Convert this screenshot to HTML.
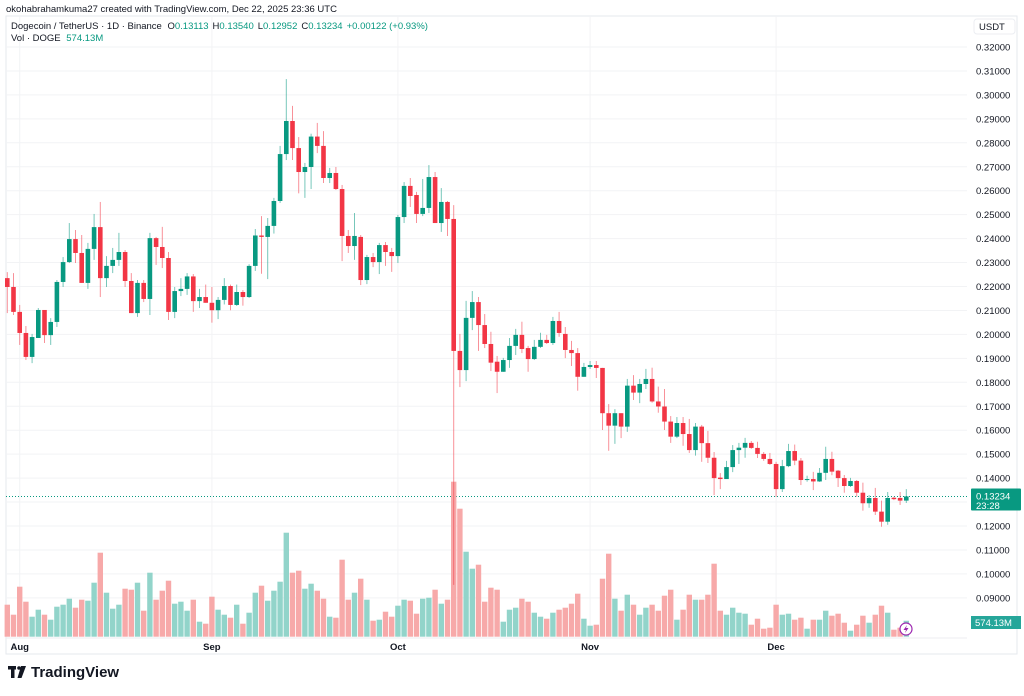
<!DOCTYPE html>
<html><head><meta charset="utf-8"><title>DOGEUSDT 1D</title>
<style>
html,body{margin:0;padding:0;background:#fff;}
body{width:1024px;height:691px;overflow:hidden;font-family:"Liberation Sans",sans-serif;}
svg text{font-family:"Liberation Sans",sans-serif;}
</style></head>
<body>
<svg id="chart" width="1024" height="691" viewBox="0 0 1024 691" xmlns="http://www.w3.org/2000/svg">
  <rect x="0" y="0" width="1024" height="691" fill="#ffffff"/>
  <text x="6" y="12" font-size="9.5" fill="#131722">okohabrahamkuma27 created with TradingView.com, Dec 22, 2025 23:36 UTC</text>
  <rect x="6" y="16" width="1011" height="638" fill="none" stroke="#e6e8ee" stroke-width="1"/>
  <g id="grid"></g>
  <g id="volumes"></g>
  <g id="candles"></g>
  <g id="yaxis"></g>
  <g id="xaxis"></g>
  <g>
    <text x="11" y="29" font-size="9.5" fill="#131722">Dogecoin / TetherUS · 1D · Binance <tspan dx="3">O</tspan><tspan fill="#089981">0.13113</tspan><tspan dx="4">H</tspan><tspan fill="#089981">0.13540</tspan><tspan dx="4">L</tspan><tspan fill="#089981">0.12952</tspan><tspan dx="4">C</tspan><tspan fill="#089981">0.13234</tspan><tspan dx="4" fill="#089981">+0.00122 (+0.93%)</tspan></text>
    <text x="11" y="41" font-size="9.5" fill="#131722">Vol · DOGE <tspan dx="3" fill="#089981">574.13M</tspan></text>
  </g>
  <g>
    <rect x="974" y="19" width="41" height="15" rx="3" fill="#fff" stroke="#eceef2"/>
    <text x="979" y="30" font-size="9.5" fill="#131722">USDT</text>
  </g>
  <g>
    <rect x="8" y="666" width="8" height="3.5" fill="#131722"/>
    <rect x="11" y="666" width="3.5" height="12" fill="#131722"/>
    <circle cx="19" cy="668" r="1.8" fill="#131722"/>
    <polygon points="21,666 26,666 21.5,678 17.5,678" fill="#131722"/>
    <text x="31" y="677" font-size="15" font-weight="bold" fill="#131722">TradingView</text>
  </g>
</svg>
<script>
const dates=['Aug','Sep','Oct','Nov','Dec'];
const dateIdx=[2,33,63,94,124];
const priceTicks=[0.32,0.31,0.30,0.29,0.28,0.27,0.26,0.25,0.24,0.23,0.22,0.21,0.20,0.19,0.18,0.17,0.16,0.15,0.14,0.13,0.12,0.11,0.10,0.09];
const opens=[.2235,.2198,.2094,.2006,.1906,.1985,.2102,.1997,.2052,.2219,.2302,.2398,.2340,.2215,.2357,.2448,.2235,.2286,.2311,.2344,.2223,.2089,.2215,.2148,.2402,.2365,.2319,.2094,.2181,.2190,.2242,.2139,.2156,.2132,.2101,.2144,.2202,.2123,.2177,.2156,.2286,.2413,.2407,.2453,.2557,.2753,.2891,.2778,.2678,.2699,.2826,.2787,.2653,.2674,.2607,.2411,.2369,.2407,.2227,.2323,.2302,.2373,.2344,.2327,.2490,.2620,.2582,.2503,.2528,.2657,.2465,.2553,.2482,.1931,.1851,.2069,.2135,.2039,.1960,.1886,.1844,.1893,.1952,.1998,.1943,.1897,.1948,.1977,.1964,.2056,.2002,.1935,.1922,.1823,.1864,.1872,.1860,.1671,.1619,.1671,.1615,.1786,.1757,.1793,.1814,.1720,.1699,.1636,.1573,.1630,.1584,.1517,.1615,.1546,.1485,.1402,.1396,.1446,.1517,.1527,.1547,.1526,.1501,.1480,.1459,.1354,.1450,.1513,.1473,.1392,.1396,.1386,.1422,.1480,.1431,.1400,.1367,.1388,.1339,.1295,.1317,.1260,.1218,.1318,.1317,.1306];
const highs=[.2260,.2256,.2123,.2035,.2002,.2110,.2102,.2068,.2227,.2323,.2465,.2436,.2415,.2382,.2503,.2553,.2327,.2361,.2424,.2352,.2256,.2227,.2227,.2424,.2407,.2449,.2344,.2198,.2235,.2256,.2252,.2190,.2208,.2198,.2156,.2235,.2208,.2208,.2185,.2293,.2440,.2494,.2486,.2570,.2787,.3066,.2954,.2824,.2716,.2838,.2883,.2849,.2695,.2699,.2624,.2436,.2507,.2415,.2332,.2340,.2382,.2386,.2361,.2499,.2636,.2653,.2595,.2649,.2707,.2678,.2611,.2557,.2540,.2002,.2140,.2181,.2156,.2085,.2011,.1910,.1902,.1985,.2023,.2053,.1952,.1977,.2007,.1998,.2073,.2094,.2031,.1973,.1943,.1881,.1889,.1889,.1860,.1709,.1688,.1671,.1814,.1830,.1814,.1856,.1861,.1782,.1772,.1659,.1655,.1655,.1647,.1630,.1622,.1597,.1509,.1421,.1472,.1538,.1547,.1568,.1555,.1552,.1509,.1505,.1468,.1476,.1543,.1540,.1484,.1410,.1426,.1442,.1531,.1510,.1434,.1413,.1401,.1392,.1381,.1329,.1359,.1306,.1342,.1322,.1342,.1354];
const lows=[.2089,.2081,.1956,.1893,.1880,.1985,.1964,.1956,.2031,.2198,.2298,.2298,.2215,.2190,.2311,.2156,.2198,.2256,.2286,.2198,.2089,.2073,.2135,.2081,.2290,.2277,.2060,.2068,.2160,.2165,.2094,.2110,.2132,.2049,.2064,.2125,.2101,.2119,.2120,.2152,.2265,.2253,.2231,.2421,.2549,.2728,.2728,.2589,.2570,.2607,.2757,.2632,.2632,.2603,.2306,.2340,.2311,.2206,.2210,.2281,.2252,.2286,.2261,.2298,.2465,.2532,.2465,.2494,.2507,.2465,.2428,.2411,.0954,.1780,.1805,.2018,.1931,.1943,.1847,.1755,.1844,.1860,.1914,.1922,.1844,.1893,.1943,.1960,.1956,.1990,.1901,.1868,.1765,.1823,.1856,.1818,.1601,.1514,.1543,.1567,.1593,.1726,.1713,.1772,.1715,.1673,.1601,.1547,.1567,.1535,.1505,.1494,.1468,.1463,.1329,.1354,.1396,.1425,.1459,.1485,.1522,.1484,.1472,.1455,.1321,.1342,.1446,.1454,.1371,.1385,.1350,.1384,.1392,.1412,.1363,.1339,.1363,.1322,.1264,.1276,.1246,.1197,.1205,.1308,.1288,.1296];
const closes=[.2198,.2094,.2006,.1906,.1989,.2102,.1997,.2052,.2219,.2302,.2398,.2340,.2215,.2357,.2448,.2235,.2286,.2311,.2344,.2223,.2089,.2215,.2148,.2402,.2365,.2319,.2094,.2181,.2190,.2242,.2139,.2156,.2132,.2101,.2144,.2202,.2123,.2177,.2156,.2286,.2413,.2407,.2453,.2557,.2753,.2891,.2778,.2678,.2699,.2826,.2787,.2653,.2674,.2607,.2411,.2369,.2411,.2227,.2323,.2302,.2373,.2344,.2327,.2490,.2620,.2578,.2503,.2528,.2657,.2465,.2553,.2482,.1931,.1851,.2069,.2135,.2039,.1960,.1882,.1844,.1893,.1952,.1998,.1939,.1897,.1948,.1977,.1964,.2056,.2006,.1935,.1922,.1823,.1864,.1872,.1860,.1671,.1619,.1671,.1615,.1786,.1757,.1793,.1814,.1720,.1699,.1636,.1573,.1630,.1584,.1517,.1615,.1546,.1485,.1400,.1396,.1446,.1517,.1527,.1547,.1526,.1501,.1480,.1459,.1354,.1450,.1513,.1473,.1392,.1396,.1386,.1422,.1480,.1427,.1400,.1367,.1388,.1339,.1295,.1317,.1260,.1218,.1317,.1312,.1306,.13234];
const volumes=[1152,792,1800,1260,720,972,792,612,1080,1152,1368,1044,1332,1296,1944,3024,1584,1008,1152,1728,1692,1944,936,2304,1332,1656,2016,
1188,1260,936,1332,540,468,1440,972,792,684,1152,468,864,1584,1836,1296,1656,1980,3744,2304,2376,1728,1908,1656,1368,720,
684,2772,1332,1584,2088,1332,576,612,900,720,1116,1332,1296,828,1368,1404,1692,1188,1332,5580,4608,3060,2448,2592,1260,1764,
1692,540,972,1044,1368,1260,864,720,648,864,972,1044,1188,1548,648,396,432,2088,2988,1368,936,1512,1152,792,1044,
1152,936,1476,1692,612,972,1512,1332,1332,1512,2628,936,792,1044,864,828,432,648,288,324,1152,792,828,612,684,288,
612,612,936,756,828,504,216,432,756,504,792,1116,864,252,324,574];
const lastPrice=0.13234;

const NS='http://www.w3.org/2000/svg';
const X0=7.3, DX=6.2;
const xScale=i=>X0+DX*i;
const yScale=p=>526-(p-0.12)*2395;
const vScale=v=>636.7-v/36;
function mk(tag,attrs,parent){const e=document.createElementNS(NS,tag);for(const k in attrs)e.setAttribute(k,attrs[k]);parent.appendChild(e);return e;}

const grid=document.getElementById('grid');
priceTicks.forEach(p=>{
  const l=mk('line',{x1:6,x2:967,y1:yScale(p),y2:yScale(p),stroke:'#f2f3f5','stroke-width':1},grid);
  
  
});
dateIdx.forEach(i=>{
  const l=mk('line',{x1:xScale(i),x2:xScale(i),y1:16,y2:638,stroke:'#f2f3f5','stroke-width':1},grid);
  
  
});
const pl=mk('line',{x1:6,x2:967,y1:yScale(lastPrice),y2:yScale(lastPrice),stroke:'#089981','stroke-width':1,'stroke-dasharray':'1 2'},grid);



const vg=document.getElementById('volumes');
volumes.forEach((v,i)=>{
  const up=closes[i]>=opens[i];
  const r=mk('rect',{x:xScale(i)-2.7,y:vScale(v),width:5.4,height:636.7-vScale(v),fill:up?'#92d4ca':'#f7a9a9'},vg);
  
  
});

const cg=document.getElementById('candles');
closes.forEach((c,i)=>{
  const o=opens[i],up=c>=o,col=up?'#089981':'#f23645';
  const g=mk('g',{},cg);
  
  
  mk('line',{x1:xScale(i),x2:xScale(i),y1:yScale(highs[i]),y2:yScale(lows[i]),stroke:col,'stroke-width':1,'stroke-opacity':0.55},g);
  const top=yScale(Math.max(o,c)),bot=yScale(Math.min(o,c));
  mk('rect',{x:xScale(i)-2.3,y:top,width:4.6,height:Math.max(1,bot-top),fill:col},g);
});

const ya=document.getElementById('yaxis');
priceTicks.forEach(p=>{
  const t=mk('text',{x:976,y:yScale(p)+3.5,'font-size':9.5,fill:'#131722'},ya);
  t.textContent=p.toFixed(5);
  
  
});
const pb=mk('rect',{x:971,y:yScale(lastPrice)-8,width:50,height:22,rx:1,fill:'#089981'},ya);


const pt=mk('text',{x:976,y:yScale(lastPrice)+3,'font-size':9.5,fill:'#fff'},ya);
pt.textContent=lastPrice.toFixed(5);


const ct=mk('text',{x:976,y:yScale(lastPrice)+12.5,'font-size':9.5,fill:'#fff'},ya);
ct.textContent='23:28';


const vb=mk('rect',{x:971,y:616,width:50,height:13,fill:'#26a69a'},ya);


const vt=mk('text',{x:975,y:626,'font-size':9.5,fill:'#fff'},ya);
vt.textContent='574.13M';


const bolt=mk('circle',{cx:906,cy:629,r:6,fill:'#fff',stroke:'#9c27b0','stroke-width':1.2},ya);


const bp=mk('polygon',{points:'907,625 903.5,630 906,630 905,633 908.5,628 906,628',fill:'#9c27b0'},ya);



const xa=document.getElementById('xaxis');
const sep=mk('line',{x1:6,x2:967,y1:638,y2:638,stroke:'#eceef2'},xa);


dates.forEach((d,k)=>{
  const t=mk('text',{x:Math.max(17,xScale(dateIdx[k])),y:650,'font-size':9.5,'font-weight':'bold',fill:'#131722','text-anchor':'middle'},xa);
  t.textContent=d;
  
  
});
</script>
</body></html>
